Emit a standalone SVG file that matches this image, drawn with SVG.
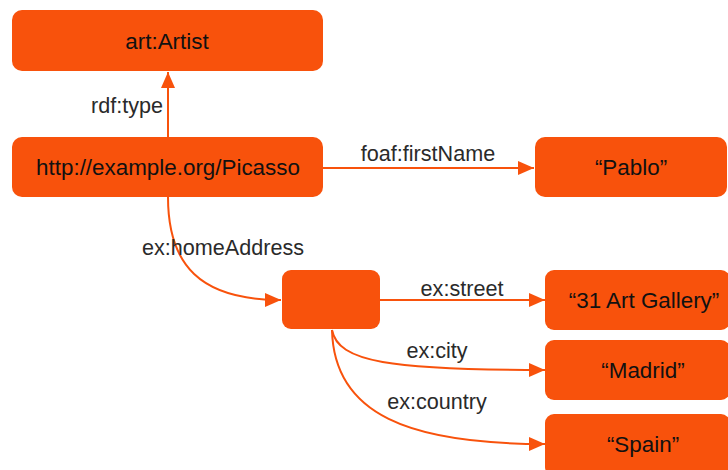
<svg xmlns="http://www.w3.org/2000/svg" width="728" height="470" viewBox="0 0 728 470">
<style>
.box{fill:#F8520C}
.nt{font-family:"Liberation Sans",Arial,sans-serif;font-size:22.4px;fill:#111;text-anchor:middle}
.lb{font-family:"Liberation Sans",Arial,sans-serif;font-size:21.6px;fill:#2a2a2a}
.edge{fill:none;stroke:#F8520C;stroke-width:2}
</style>
<defs>
<marker id="arr" viewBox="0 0 16 14" refX="16" refY="7" markerWidth="16" markerHeight="14" markerUnits="userSpaceOnUse" orient="auto">
<path d="M0 0 L16 7 L0 14 Z" fill="#F8520C"/>
</marker>
</defs>
<rect width="728" height="470" fill="#fff"/>
<g id="edges">
<path class="edge" d="M168 137 L168 72" marker-end="url(#arr)"/>
<text class="lb" x="163" y="113" text-anchor="end">rdf:type</text>
<path class="edge" d="M323 168 L534 168" marker-end="url(#arr)"/>
<text class="lb" x="428" y="161" text-anchor="middle">foaf:firstName</text>
<path class="edge" d="M168 197 C168 265 200 300 281 300" marker-end="url(#arr)"/>
<text class="lb" x="223" y="255" text-anchor="middle">ex:homeAddress</text>
<path class="edge" d="M380 300 L545 300" marker-end="url(#arr)"/>
<text class="lb" x="462" y="296" text-anchor="middle">ex:street</text>
<path class="edge" d="M332 330 C338 362 390 370 545 370" marker-end="url(#arr)"/>
<text class="lb" x="437" y="358" text-anchor="middle">ex:city</text>
<path class="edge" d="M332 330 C334 415 410 444 545 444" marker-end="url(#arr)"/>
<text class="lb" x="437" y="409" text-anchor="middle">ex:country</text>
</g>
<g id="artist"><rect class="box" x="12" y="10" width="311" height="61" rx="10"/><text class="nt" x="167" y="49">art:Artist</text></g>
<g id="picasso"><rect class="box" x="12" y="137" width="311" height="60" rx="10"/><text class="nt" x="168" y="175">http://example.org/Picasso</text></g>
<g id="pablo"><rect class="box" x="535" y="137" width="192" height="60" rx="10"/><text class="nt" x="631" y="175">“Pablo”</text></g>
<g id="blank"><rect class="box" x="282" y="270" width="98" height="59" rx="9"/></g>
<g id="street"><rect class="box" x="545" y="270" width="185" height="60" rx="9"/><text class="nt" x="644" y="308">“31 Art Gallery”</text></g>
<g id="madrid"><rect class="box" x="545" y="340" width="185" height="60" rx="9"/><text class="nt" x="643" y="378">“Madrid”</text></g>
<g id="spain"><rect class="box" x="545" y="414" width="185" height="62" rx="9"/><text class="nt" x="643" y="452">“Spain”</text></g>
</svg>
